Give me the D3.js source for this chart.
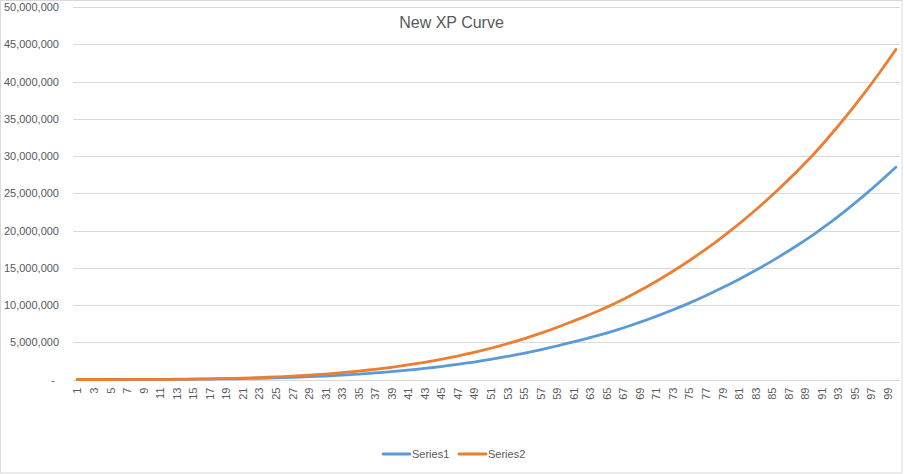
<!DOCTYPE html>
<html>
<head>
<meta charset="utf-8">
<script src="https://cdn.jsdelivr.net/npm/d3@7"></script>
<style>
  html, body { margin: 0; padding: 0; background: #fff; }
  svg { display: block; }
  text { font-family: "Liberation Sans", Arial, sans-serif; fill: #595959; }
</style>
</head>
<body>
<svg id="chart" width="904" height="474"></svg>
<script>
// ---- data ----
const title = "New XP Curve";
const categories = Array.from({length: 100}, (_, i) => String(i + 1));
const seriesNames = ["Series1", "Series2"];
const series1 = [
  0, 32, 133, 365, 797, 1508, 2586, 4127, 6233, 9012,
  12583, 17060, 22578, 29264, 37252, 46694, 57732, 70518, 85209, 101964,
  120954, 142329, 166303, 193013, 222656, 255417, 291487, 331087, 374310, 421472,
  472747, 528287, 588405, 653169, 722900, 797818, 878148, 963958, 1055774, 1153600,
  1257751, 1368399, 1485828, 1610359, 1742157, 1881408, 2028522, 2183627, 2347098, 2519067,
  2699834, 2889669, 3089027, 3297758, 3516604, 3745490, 3984890, 4234960, 4496114, 4768375,
  5039829, 5321560, 5613760, 5917114, 6231336, 6556689, 6910717, 7278868, 7660513, 8056474,
  8465986, 8890586, 9330627, 9785335, 10256389, 10743340, 11246059, 11765867, 12302298, 12855369,
  13426990, 14016141, 14623420, 15249355, 15894293, 16559350, 17241731, 17946434, 18670043, 19415064,
  20210170, 21031720, 21876000, 22743112, 23638349, 24557399, 25503128, 26473392, 27473981, 28500000
];
const series2 = [
  0, 50, 207, 567, 1239, 2343, 4019, 6413, 9686, 14005,
  19554, 26511, 35086, 45476, 57890, 72562, 89716, 109585, 132415, 158452,
  187963, 221179, 258435, 299942, 346007, 396918, 452971, 514509, 581678, 654967,
  734649, 820958, 914381, 1015025, 1123387, 1239809, 1364642, 1497991, 1640673, 1792694,
  1954545, 2126492, 2308977, 2502498, 2707312, 2923708, 3152323, 3393356, 3647390, 3914630,
  4195542, 4490546, 4800348, 5124716, 5464803, 5820491, 6192519, 6581128, 6986961, 7410055,
  7831894, 8269704, 8723783, 9195195, 9683496, 10189095, 10739254, 11311361, 11904437, 12519761,
  13156142, 13815971, 14499794, 15206411, 15938429, 16695150, 17476376, 18284157, 19117771, 19977243,
  20865542, 21781083, 22724795, 23697498, 24699731, 25733230, 26793650, 27888758, 29013247, 30170509,
  31406604, 32683293, 33995304, 35342796, 36733994, 38162198, 39631861, 41139651, 42694567, 44300000
];
const yTicks = [0, 5000000, 10000000, 15000000, 20000000, 25000000, 30000000, 35000000, 40000000, 45000000, 50000000];
const xTickLabels = categories.filter((c, i) => i % 2 === 0);

// ---- layout ----
const colors = ["#5B9BD5", "#ED7D31"];
const plot = {left: 73, right: 900, top: 7, bottom: 379.5};
const svg = d3.select("#chart");

// chart border
svg.append("rect")
  .attr("x", 0.5).attr("y", 0.5).attr("width", 901.5).attr("height", 472.5)
  .attr("fill", "#fff").attr("stroke", "#d9d9d9").attr("stroke-width", 1);

const x = d3.scalePoint().domain(categories).range([plot.left, plot.right]).padding(0.5);
const y = d3.scaleLinear().domain([0, 50000000]).range([plot.bottom, plot.top]);

// gridlines
const grid = svg.append("g").attr("transform", `translate(${plot.left},0)`)
  .call(d3.axisLeft(y).tickValues(yTicks.filter(v => v > 0)).tickSize(-(plot.right - plot.left)).tickFormat(""));
grid.select(".domain").remove();
grid.selectAll("line").attr("stroke", "#d9d9d9").attr("stroke-width", 1)
  .attr("shape-rendering", "crispEdges");

// y axis labels
const fmt = d3.format(",");
const yAxis = svg.append("g").attr("transform", `translate(${plot.left},0)`)
  .call(d3.axisLeft(y).tickValues(yTicks).tickSize(0).tickPadding(14)
    .tickFormat(v => v === 0 ? "-" : fmt(v)));
yAxis.select(".domain").remove();
yAxis.selectAll("text").style("font-size", "11px").attr("fill", "#595959")
  .attr("dx", v => v === 0 ? "-4px" : 0);

// x axis
const xAxis = svg.append("g").attr("transform", `translate(0,${plot.bottom})`)
  .call(d3.axisBottom(x).tickValues(xTickLabels).tickSize(0).tickPadding(0));
xAxis.select(".domain").attr("stroke", "#d9d9d9").attr("stroke-width", 1)
  .attr("d", `M${plot.left},0.5H${plot.right}`).attr("shape-rendering", "crispEdges");
xAxis.selectAll("text")
  .style("font-size", "11px").attr("fill", "#595959")
  .attr("text-anchor", "end")
  .attr("transform", "rotate(-90)")
  .attr("x", -8).attr("y", 0).attr("dy", "0.35em");

// lines
const line = d3.line().x((d, i) => x(categories[i])).y(d => y(d));
[series1, series2].forEach((s, k) => {
  svg.append("path").datum(s)
    .attr("fill", "none").attr("stroke", colors[k]).attr("stroke-width", 2.8)
    .attr("stroke-linejoin", "round").attr("stroke-linecap", "round")
    .attr("d", line);
});

// title
svg.append("text").attr("x", 451.5).attr("y", 28).attr("text-anchor", "middle")
  .style("font-size", "16px").text(title);

// legend
const legendItems = [{x: 383}, {x: 459}];
seriesNames.forEach((name, k) => {
  const g = svg.append("g").attr("transform", `translate(${legendItems[k].x},454)`);
  g.append("line").attr("x1", 0).attr("x2", 27).attr("y1", 0).attr("y2", 0)
    .attr("stroke", colors[k]).attr("stroke-width", 2.8).attr("stroke-linecap", "round");
  g.append("text").attr("x", 29).attr("y", 0).attr("dy", "0.35em")
    .style("font-size", "11px").text(name);
});
</script>
</body>
</html>
